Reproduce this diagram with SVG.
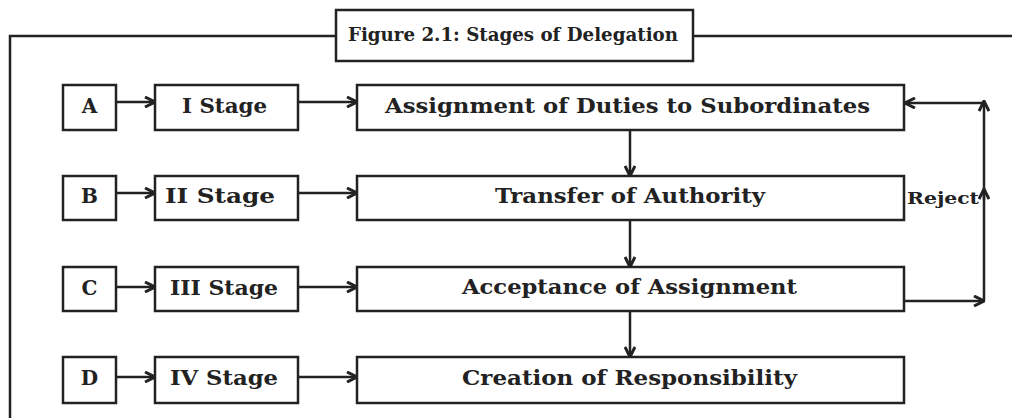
<svg xmlns="http://www.w3.org/2000/svg" width="1012" height="418" viewBox="0 0 1012 418">
<style>
.box{fill:#fff;stroke:#222;stroke-width:2.5}
.t{font-family:"DejaVu Serif","Liberation Serif",serif;font-weight:bold;fill:#222;text-anchor:middle}
.c{fill:none;stroke:#222;stroke-width:2.5}
</style>
<defs>
<marker id="ah" viewBox="0 0 12 12" refX="11" refY="6" markerWidth="12" markerHeight="12" markerUnits="userSpaceOnUse" orient="auto">
<path d="M1,1 L11,6 L1,11" fill="none" stroke="#222" stroke-width="3"/>
</marker>
</defs>
<rect width="1012" height="418" fill="#fff"/>
<g id="frame">
<path class="c" d="M10,418 L10,36 L336,36 M693,36 L1012,36"/>
</g>
<g id="title">
<rect class="box" x="336" y="10" width="357" height="51"/>
<text class="t" x="513" y="41" font-size="18" textLength="330" lengthAdjust="spacingAndGlyphs">Figure 2.1: Stages of Delegation</text>
</g>
<g id="nodeA"><rect class="box" x="63" y="85" width="53" height="45"/><text class="t" x="89.5" y="113" font-size="20">A</text></g>
<g id="nodeB"><rect class="box" x="63" y="176" width="53" height="44"/><text class="t" x="89.5" y="203" font-size="20">B</text></g>
<g id="nodeC"><rect class="box" x="63" y="267" width="53" height="44"/><text class="t" x="89.5" y="295" font-size="20">C</text></g>
<g id="nodeD"><rect class="box" x="63" y="357" width="53" height="46"/><text class="t" x="89.5" y="385" font-size="20">D</text></g>
<g id="stage1"><rect class="box" x="155" y="85" width="143" height="45"/><text class="t" x="224.5" y="113" font-size="20" textLength="85" lengthAdjust="spacingAndGlyphs">I Stage</text></g>
<g id="stage2"><rect class="box" x="155" y="176" width="143" height="44"/><text class="t" x="220" y="203" font-size="20" textLength="110" lengthAdjust="spacingAndGlyphs">II Stage</text></g>
<g id="stage3"><rect class="box" x="155" y="267" width="143" height="44"/><text class="t" x="224" y="295" font-size="20" textLength="108" lengthAdjust="spacingAndGlyphs">III Stage</text></g>
<g id="stage4"><rect class="box" x="155" y="357" width="143" height="46"/><text class="t" x="224" y="385" font-size="20" textLength="108" lengthAdjust="spacingAndGlyphs">IV Stage</text></g>
<g id="step1"><rect class="box" x="357" y="85" width="547" height="45"/><text class="t" x="627.5" y="113" font-size="21" textLength="485" lengthAdjust="spacingAndGlyphs">Assignment of Duties to Subordinates</text></g>
<g id="step2"><rect class="box" x="357" y="176" width="547" height="44"/><text class="t" x="630" y="203" font-size="21" textLength="270" lengthAdjust="spacingAndGlyphs">Transfer of Authority</text></g>
<g id="step3"><rect class="box" x="357" y="267" width="547" height="44"/><text class="t" x="629.5" y="294" font-size="21" textLength="335" lengthAdjust="spacingAndGlyphs">Acceptance of Assignment</text></g>
<g id="step4"><rect class="box" x="357" y="357" width="547" height="46"/><text class="t" x="629.5" y="385" font-size="21" textLength="335" lengthAdjust="spacingAndGlyphs">Creation of Responsibility</text></g>
<g id="connectors">
<path class="c" marker-end="url(#ah)" d="M116,102 L155,102"/>
<path class="c" marker-end="url(#ah)" d="M298,102 L357,102"/>
<path class="c" marker-end="url(#ah)" d="M116,193 L155,193"/>
<path class="c" marker-end="url(#ah)" d="M298,193 L357,193"/>
<path class="c" marker-end="url(#ah)" d="M116,287 L155,287"/>
<path class="c" marker-end="url(#ah)" d="M298,287 L357,287"/>
<path class="c" marker-end="url(#ah)" d="M116,377 L155,377"/>
<path class="c" marker-end="url(#ah)" d="M298,377 L357,377"/>
<path class="c" marker-end="url(#ah)" d="M630,130 L630,176"/>
<path class="c" marker-end="url(#ah)" d="M630,220 L630,267"/>
<path class="c" marker-end="url(#ah)" d="M630,311 L630,357"/>
<path class="c" marker-end="url(#ah)" d="M904,301 L984,301"/>
<path class="c" marker-end="url(#ah)" d="M984,301 L984,101"/>
<path class="c" marker-end="url(#ah)" d="M984,200 L984,189"/>
<path class="c" marker-end="url(#ah)" d="M984,103 L905,103"/>
<text class="t" x="943" y="204" font-size="16" textLength="72" lengthAdjust="spacingAndGlyphs">Reject</text>
</g>
</svg>
